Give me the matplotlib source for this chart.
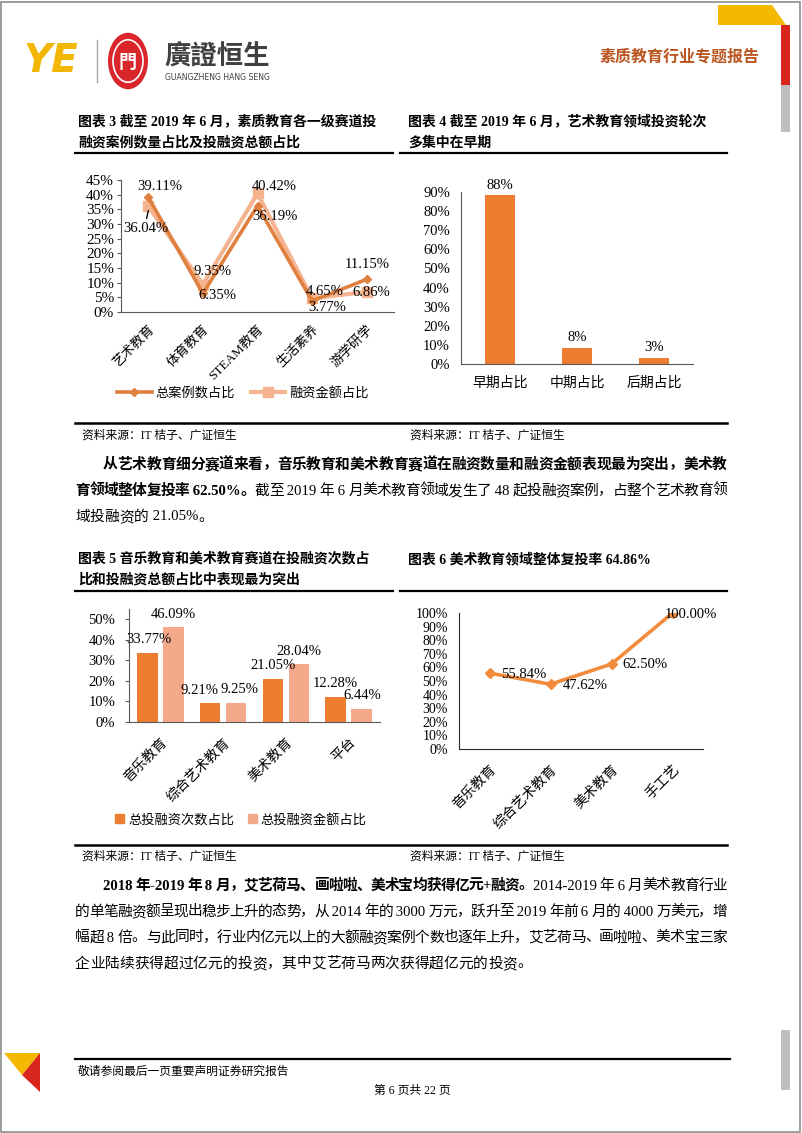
import re
import matplotlib
matplotlib.use('Agg')
import matplotlib.pyplot as plt
from matplotlib.patches import Circle, Polygon, Rectangle, Patch
from matplotlib.lines import Line2D

plt.rcParams['font.family'] = ['Liberation Serif', 'Noto Sans CJK SC']
plt.rcParams['axes.unicode_minus'] = False

W, H = 802, 1133
FONT = ['Liberation Serif', 'Noto Sans CJK SC']

# chart 3 data
c3_cats = ['艺术教育', '体育教育', 'STEAM教育', '生活素养', '游学研学']
c3_cases = [39.11, 6.35, 36.19, 3.77, 11.15]
c3_amount = [36.04, 9.35, 40.42, 4.65, 6.86]
c3_names = ['总案例数占比', '融资金额占比']

# chart 4 data
c4_cats = ['早期占比', '中期占比', '后期占比']
c4_vals = [88.4, 8.4, 3.2]

# chart 5 data
c5_cats = ['音乐教育', '综合艺术教育', '美术教育', '平台']
c5_count = [33.77, 9.21, 21.05, 12.28]
c5_amount = [46.09, 9.25, 28.04, 6.44]
c5_names = ['总投融资次数占比', '总投融资金额占比']

# chart 6 data
c6_cats = ['音乐教育', '综合艺术教育', '美术教育', '手工艺']
c6_vals = [55.84, 47.62, 62.50, 100.00]

DARK = '#E0803F'
LIGHT = '#F5B38F'
BAR = '#ED7D31'
BAR2 = '#F4A98B'
AXC = '#595959'

fig = plt.figure(figsize=(W / 100, H / 100), dpi=100)
renderer = fig.canvas.get_renderer()


def ax_px(l, t, r, b):
    return fig.add_axes([l / W, 1 - b / H, (r - l) / W, (b - t) / H])


def tx(x, y, s, **kw):
    return fig.text(x / W, 1 - y / H, s, **kw)


def hline(x0, x1, y, lw=1.6, color='black'):
    fig.add_artist(Line2D([x0 / W, x1 / W], [1 - y / H, 1 - y / H], lw=lw, color=color))


CJK_RE = re.compile(r'[\u3000-\u303f\u4e00-\u9fff\uff00-\uffef]|[^\u3000-\u303f\u4e00-\u9fff\uff00-\uffef]+')


def text_line(x0, y, pieces, size, right=None, color='black'):
    # one line of body text, spread out to the right margin when asked
    items = []
    for s, bold in pieces:
        for tok in CJK_RE.findall(s):
            items.append(tx(0, y, tok, fontsize=size, family=FONT, color=color,
                            fontweight='bold' if bold else 'normal', va='center', ha='left'))
    widths = [t.get_window_extent(renderer).width for t in items]
    gap = 0
    if right is not None and len(items) > 1:
        gap = (right - x0 - sum(widths)) / (len(items) - 1)
    x = x0
    for t, w in zip(items, widths):
        t.set_position((x / W, 1 - y / H))
        x += w + gap


def style_axes(ax, ysize=10, xsize=10):
    for s in ['top', 'right']:
        ax.spines[s].set_visible(False)
    for s in ['left', 'bottom']:
        ax.spines[s].set_color(AXC)
        ax.spines[s].set_linewidth(0.8)
    ax.tick_params(axis='y', length=3, width=0.8, color=AXC, labelsize=ysize, pad=2)
    ax.tick_params(axis='x', length=0, labelsize=xsize)
    ax.set_facecolor('none')


# ---- page frame and header ----
fig.add_artist(Rectangle((1 / W, 1 / H), 799 / W, 1130 / H, fill=False, ec='#8C8C8C', lw=1.2,
                         transform=fig.transFigure))
fig.add_artist(Polygon([(718 / W, 1 - 5 / H), (772 / W, 1 - 5 / H), (786 / W, 1 - 25 / H),
                        (718 / W, 1 - 25 / H)], closed=True, fc='#F5B800', ec='none',
                       transform=fig.transFigure))
fig.add_artist(Rectangle((781 / W, 1 - 85 / H), 9 / W, 60 / H, fc='#D9261C', ec='none',
                         transform=fig.transFigure))
fig.add_artist(Rectangle((781 / W, 1 - 132 / H), 9 / W, 47 / H, fc='#BFBFBF', ec='none',
                         transform=fig.transFigure))
fig.add_artist(Rectangle((781 / W, 1 - 1090 / H), 9 / W, 60 / H, fc='#BFBFBF', ec='none',
                         transform=fig.transFigure))
fig.add_artist(Polygon([(4 / W, 1 - 1053 / H), (40 / W, 1 - 1053 / H), (22 / W, 1 - 1075 / H)],
                       closed=True, fc='#F5B800', ec='none', transform=fig.transFigure))
fig.add_artist(Polygon([(22 / W, 1 - 1075 / H), (40 / W, 1 - 1053 / H), (40 / W, 1 - 1092 / H)],
                       closed=True, fc='#D9261C', ec='none', transform=fig.transFigure))

tx(24, 61, 'YE', fontsize=28, fontweight='bold', style='italic', color='#F2B705',
   family='DejaVu Sans', va='center', ha='left')
fig.add_artist(Line2D([97 / W, 97 / W], [1 - 40 / H, 1 - 82 / H], lw=1, color='#A6A6A6'))
fig.add_artist(Circle((128 / W, 1 - 61 / H), 20 / W, fc='#D9262B', ec='none',
                      transform=fig.transFigure))
fig.add_artist(Circle((128 / W, 1 - 61 / H), 15 / W, fc='none', ec='white', lw=1.2,
                      transform=fig.transFigure))
tx(128, 62, '門', fontsize=13, color='white', family='Noto Sans CJK SC', fontweight='bold',
   va='center', ha='center')
tx(164, 57, '廣證恒生', fontsize=19, fontweight='bold', color='#404040',
   family='Noto Sans CJK TC', va='center', ha='left')
tx(165, 77, 'GUANGZHENG HANG SENG', fontsize=5.6, color='#404040', family='DejaVu Sans',
   va='center', ha='left')
tx(760, 57, '素质教育行业专题报告', fontsize=11.5, fontweight='bold', color='#B9541F',
   family='Noto Sans CJK SC', va='center', ha='right')

# ---- chart titles ----
title_kw = dict(fontsize=10, fontweight='bold', family=FONT, va='center', ha='left')
tx(78, 121, '图表 3 截至 2019 年 6 月，素质教育各一级赛道投', **title_kw)
tx(78, 143, '融资案例数量占比及投融资总额占比', **title_kw)
tx(408, 121, '图表 4 截至 2019 年 6 月，艺术教育领域投资轮次', **title_kw)
tx(408, 143, '多集中在早期', **title_kw)
hline(75, 393, 153)
hline(400, 727, 153)

tx(78, 559, '图表 5 音乐教育和美术教育赛道在投融资次数占', **title_kw)
tx(78, 580, '比和投融资总额占比中表现最为突出', **title_kw)
tx(408, 559, '图表 6 美术教育领域整体复投率 64.86%', **title_kw)
hline(75, 393, 591)
hline(400, 727, 591)

# ---- chart 3: line ----
ax3 = ax_px(121, 180, 394, 312)
x3 = list(range(len(c3_cats)))
ax3.plot(x3, c3_amount, color=LIGHT, lw=3, marker='s', ms=7, label=c3_names[1], zorder=2)
ax3.plot(x3, c3_cases, color=DARK, lw=2.6, marker='D', ms=4.5, label=c3_names[0], zorder=3)
ax3.set_xlim(-0.5, len(c3_cats) - 0.5)
ax3.set_ylim(0, 45)
ax3.set_yticks(range(0, 46, 5))
ax3.set_yticklabels([f'{v}%' for v in range(0, 46, 5)])
ax3.set_xticks(x3)
ax3.set_xticklabels(c3_cats, rotation=45, ha='right', va='top', rotation_mode='anchor')
style_axes(ax3, ysize=11, xsize=9.5)
ax3.tick_params(axis='x', pad=8)
case_off = [(11, -11), (14, 2), (17, 11), (15, 7), (1, -15)]
amt_off = [(-2, 22), (10, -13), (17, -7), (13, -7), (5, 1)]
for i in x3:
    ax3.annotate(f'{c3_cases[i]:.2f}%', (i, c3_cases[i]), xytext=(case_off[i][0], -case_off[i][1]),
                 textcoords='offset pixels', ha='center', va='center', fontsize=10.5, zorder=5)
    ax3.annotate(f'{c3_amount[i]:.2f}%', (i, c3_amount[i]), xytext=(amt_off[i][0], -amt_off[i][1]),
                 textcoords='offset pixels', ha='center', va='center', fontsize=10.5, zorder=5)
ax3.plot([0, -0.03], [34.5, 32.0], color='black', lw=1, zorder=4)
h3, l3 = ax3.get_legend_handles_labels()
ax3.legend(h3[::-1], l3[::-1], loc='center', bbox_to_anchor=(243 / W, 1 - 393 / H),
           bbox_transform=fig.transFigure, ncol=2, frameon=False, handlelength=2.6,
           columnspacing=1.2, handletextpad=0.3, prop={'family': FONT, 'size': 9.5})

# ---- chart 4: bars ----
ax4 = ax_px(461, 192, 693, 364)
x4 = list(range(len(c4_cats)))
ax4.bar(x4, c4_vals, width=0.39, color=BAR)
ax4.set_xlim(-0.5, len(c4_cats) - 0.5)
ax4.set_ylim(0, 90)
ax4.set_yticks(range(0, 91, 10))
ax4.set_yticklabels([f'{v}%' for v in range(0, 91, 10)])
ax4.set_xticks(x4)
ax4.set_xticklabels(c4_cats)
style_axes(ax4, ysize=10.5, xsize=10)
ax4.tick_params(axis='y', length=0, pad=8)
ax4.tick_params(axis='x', pad=9)
for i in x4:
    ax4.annotate(f'{c4_vals[i]:.0f}%', (i, c4_vals[i]), xytext=(0, 10), textcoords='offset pixels',
                 ha='center', va='center', fontsize=10.5)

# ---- chart 5: grouped bars ----
ax5 = ax_px(129, 609, 380, 722)
x5 = list(range(len(c5_cats)))
ax5.bar([i - 0.207 for i in x5], c5_count, width=0.33, color=BAR, label=c5_names[0])
ax5.bar([i + 0.207 for i in x5], c5_amount, width=0.33, color=BAR2, label=c5_names[1])
ax5.set_xlim(-0.5, len(c5_cats) - 0.5)
ax5.set_ylim(0, 55)
ax5.set_yticks(range(0, 51, 10))
ax5.set_yticklabels([f'{v}%' for v in range(0, 51, 10)])
ax5.set_xticks(x5)
ax5.set_xticklabels(c5_cats, rotation=45, ha='right', va='top', rotation_mode='anchor')
style_axes(ax5, ysize=10.5, xsize=10)
ax5.tick_params(axis='y', pad=7)
ax5.tick_params(axis='x', pad=10)
count_dx = [1, -11, 0, 0]
amount_dx = [0, 3, 0, 1]
for i in x5:
    ax5.annotate(f'{c5_count[i]:.2f}%', (i - 0.207, c5_count[i]), xytext=(count_dx[i], 13),
                 textcoords='offset pixels', ha='center', va='center', fontsize=10.5)
    ax5.annotate(f'{c5_amount[i]:.2f}%', (i + 0.207, c5_amount[i]), xytext=(amount_dx[i], 13),
                 textcoords='offset pixels', ha='center', va='center', fontsize=10.5)
ax5.legend(handles=[Patch(color=BAR, label=c5_names[0]), Patch(color=BAR2, label=c5_names[1])],
           loc='center', bbox_to_anchor=(241 / W, 1 - 820 / H), bbox_transform=fig.transFigure,
           ncol=2, frameon=False, handlelength=0.7, handleheight=0.7, handletextpad=0.3,
           columnspacing=1.0, prop={'family': FONT, 'size': 9.5})

# ---- chart 6: line ----
ax6 = ax_px(459, 613, 703, 749)
x6 = list(range(len(c6_cats)))
ax6.plot(x6, c6_vals, color='#F28C3C', lw=2.6, marker='D', ms=5)
ax6.set_xlim(-0.5, len(c6_cats) - 0.5)
ax6.set_ylim(0, 100)
ax6.set_yticks(range(0, 101, 10))
ax6.set_yticklabels([f'{v}%' for v in range(0, 101, 10)])
ax6.set_xticks(x6)
ax6.set_xticklabels(c6_cats, rotation=45, ha='right', va='top', rotation_mode='anchor')
style_axes(ax6, ysize=10, xsize=10)
ax6.tick_params(axis='y', length=0, pad=8)
ax6.tick_params(axis='x', pad=10)
for s in ['left', 'bottom']:
    ax6.spines[s].set_color('#262626')
c6_dx = [12, 12, 11, -8]
for i in x6:
    ax6.annotate(f'{c6_vals[i]:.2f}%', (i, c6_vals[i]), xytext=(c6_dx[i], -1),
                 textcoords='offset pixels', ha='left', va='center', fontsize=10.5, zorder=5)

# ---- sources ----
hline(75, 727, 423, lw=1.8)
hline(75, 727, 845, lw=1.8)
for yy in [436, 857]:
    tx(82, yy, '资料来源：IT 桔子、广证恒生', fontsize=8.5, family=FONT, va='center', ha='left')
    tx(410, yy, '资料来源：IT 桔子、广证恒生', fontsize=8.5, family=FONT, va='center', ha='left')

# ---- body text ----
BS = 10.6
text_line(103, 465, [('从艺术教育细分赛道来看，音乐教育和美术教育赛道在融资数量和融资金额表现最为突出，美术教', True)],
          BS, right=727)
text_line(75, 491, [('育领域整体复投率 62.50%。', True),
                    ('截至 2019 年 6 月美术教育领域发生了 48 起投融资案例，占整个艺术教育领', False)],
          BS, right=727)
text_line(75, 517, [('域投融资的 21.05%。', False)], BS)

text_line(103, 886, [('2018 年-2019 年 8 月，艾艺荷马、画啦啦、美术宝均获得亿元+融资。', True),
                     ('2014-2019 年 6 月美术教育行业', False)], BS, right=727)
text_line(75, 912, [('的单笔融资额呈现出稳步上升的态势，从 2014 年的 3000 万元，跃升至 2019 年前 6 月的 4000 万美元，增', False)],
          BS, right=727)
text_line(75, 938, [('幅超 8 倍。与此同时，行业内亿元以上的大额融资案例个数也逐年上升，艾艺荷马、画啦啦、美术宝三家', False)],
          BS, right=727)
text_line(75, 964, [('企业陆续获得超过亿元的投资，其中艾艺荷马两次获得超亿元的投资。', False)], BS)

# ---- footer ----
hline(75, 730, 1059, lw=1.6)
tx(78, 1072, '敬请参阅最后一页重要声明证券研究报告', fontsize=8.5, family=FONT, va='center', ha='left')
tx(412, 1091, '第 6 页共 22 页', fontsize=8.5, family=FONT, va='center', ha='center')

fig.savefig('out.png', dpi=100)
